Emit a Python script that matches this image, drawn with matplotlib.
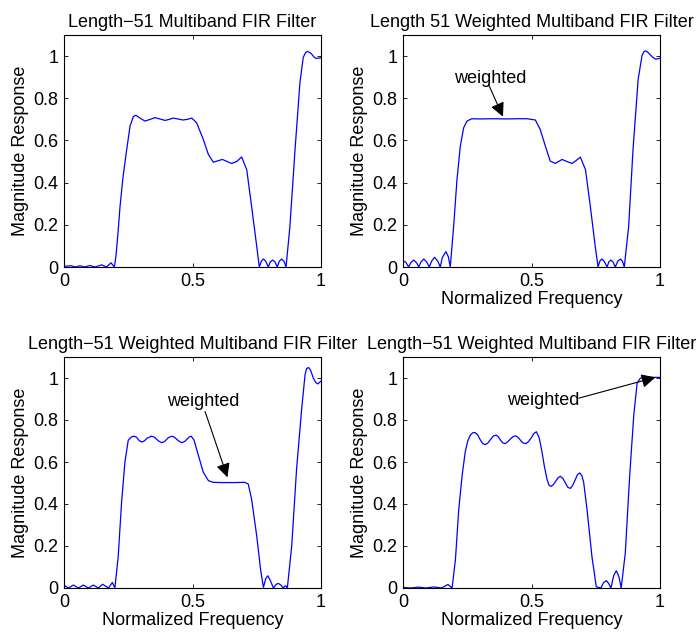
import matplotlib
matplotlib.use("Agg")
import matplotlib.pyplot as plt

plt.rcParams['font.family'] = ['Liberation Sans', 'DejaVu Sans']
plt.rcParams['font.size'] = 13

# values (normalized frequency, magnitude)
f1 = [0, .026, .045, .062, .08, .101, .12, .147, .165, .183,
      .196, .202, .210, .218, .230, .244, .257, .270, .280, .297,
      .315, .335, .354, .373, .393, .410, .425, .443, .462, .480,
      .497, .516, .542, .562, .581, .598, .616, .635, .652, .672,
      .691, .711, .730, .750, .760, .768, .776, .785, .795, .803,
      .812, .821, .830, .838, .847, .856, .864, .879, .899, .918,
      .931, .940, .947, .955, .964, .972, .981, .990, 1.0]
m1 = [.003, .006, 0, .006, 0, .007, 0, .01, 0, .02,
      0, .05, .16, .287, .43, .557, .668, .714, .719, .705,
      .692, .700, .708, .702, .695, .700, .706, .702, .697, .700,
      .706, .684, .605, .533, .497, .503, .510, .500, .491, .500,
      .522, .462, .287, .097, 0, .028, .038, .027, 0, .025,
      .033, .024, 0, .028, .038, .027, 0, .192, .557, .874,
      .994, 1.017, 1.022, 1.018, 1.009, .996, .989, .990, .992]

f2 = [0, .011, .022, .030, .0415, .053, .0615, .069, .0804, .092,
      .1025, .111, .123, .135, .145, .153, .167, .176, .184, .197,
      .210, .223, .236, .249, .268, .30, .35, .40, .45, .4825,
      .515, .534, .554, .573, .593, .619, .638, .658, .674, .690,
      .710, .729, .748, .759, .766, .774, .783, .794, .801, .809,
      .817, .826, .836, .846, .854, .861, .878, .895, .915, .930,
      .937, .943, .951, .960, .971, .982, .991, 1.0]
m2 = [.03, .022, 0, .02, .033, .02, 0, .022, .038, .024,
      0, .027, .046, .028, 0, .045, .073, .05, 0, .192,
      .414, .573, .660, .692, .703, .702, .703, .702, .703, .703,
      .697, .652, .573, .502, .491, .510, .500, .491, .505, .521,
      .462, .287, .097, 0, .028, .038, .027, 0, .024, .033,
      .024, 0, .028, .038, .027, 0, .192, .557, .890, 1.002,
      1.02, 1.025, 1.02, 1.009, .995, .986, .987, .990]

f3 = [0, .0168, .0363, .056, .0752, .095, .114, .134, .150, .173,
      .188, .198, .211, .224, .237, .250, .262, .272, .282, .292,
      .302, .312, .324, .341, .352, .368, .380, .392, .406, .419,
      .430, .446, .458, .470, .486, .495, .506, .523, .542, .562,
      .581, .62, .66, .704, .717, .730, .750, .765, .776, .785,
      .793, .803, .815, .825, .834, .843, .853, .858, .863, .869,
      .886, .905, .925, .938, .944, .952, .960, .970, .980, .988,
      1.0]
m3 = [.014, 0, .014, 0, .014, 0, .014, 0, .018, 0,
      .026, 0, .151, .407, .599, .704, .719, .723, .718, .703,
      .695, .700, .714, .723, .718, .700, .692, .698, .716, .723,
      .718, .700, .692, .698, .718, .723, .704, .631, .551, .511,
      .503, .502, .502, .503, .495, .423, .247, .087, .003, .045,
      .058, .035, 0, .017, .022, .015, 0, .008, .01, 0,
      .199, .567, .856, 1.016, 1.045, 1.05, 1.035, 1.0, .978, .972,
      .985]

f4 = [0, .03, .06, .09, .12, .15, .175, .191, .204, .217,
      .230, .242, .252, .262, .271, .281, .291, .300, .310, .320,
      .330, .341, .352, .362, .371, .380, .389, .398, .408, .420,
      .430, .440, .449, .458, .468, .479, .489, .499, .509, .519,
      .530, .541, .550, .560, .568, .576, .585, .594, .603, .612,
      .622, .632, .641, .651, .660, .670, .679, .688, .696, .703,
      .716, .735, .752, .760, .770, .780, .791, .800, .809, .820,
      .830, .840, .849, .865, .882, .898, .911, .924, .943, .965,
      1.0]
m4 = [.003, 0, .004, 0, .005, 0, .017, 0, .135, .375,
      .535, .647, .70, .728, .739, .740, .728, .707, .688, .683,
      .690, .708, .724, .728, .720, .703, .690, .688, .697, .712,
      .722, .724, .716, .702, .690, .688, .698, .715, .735, .744,
      .715, .647, .58, .519, .49, .484, .492, .508, .524, .532,
      .522, .500, .480, .474, .488, .515, .540, .548, .535, .503,
      .375, .151, .006, .003, 0, .025, .035, .022, 0, .06,
      .082, .055, 0, .167, .535, .824, .976, 1.0, 1.003, 1.003,
      1.003]

titles = ['Length\u221251 Multiband FIR Filter',
          'Length 51 Weighted Multiband FIR Filter',
          'Length\u221251 Weighted Multiband FIR Filter',
          'Length\u221251 Weighted Multiband FIR Filter']
show_xlabel = [False, True, True, True]
xticks = [0, 0.5, 1]
xticklabels = ['0', '0.5', '1']
yticks = [0, 0.2, 0.4, 0.6, 0.8, 1]
yticklabels = ['0', '0.2', '0.4', '0.6', '0.8', '1']

# annotation: (text pos, arrow start, arrow tip) in data units, None for no note
notes = [None,
         ((.339, .895), (.333, .865), (.389, .713)),
         ((.541, .889), (.549, .84), (.636, .527)),
         ((.545, .894), (.684, .904), (.982, 1.003))]

# axes rectangles in figure fractions [left, bottom, width, height]
rects = [[64 / 699, 1 - 267 / 637, 257 / 699, 232 / 637],
         [403 / 699, 1 - 267 / 637, 257 / 699, 232 / 637],
         [64 / 699, 1 - 588 / 637, 257 / 699, 231 / 637],
         [403 / 699, 1 - 588 / 637, 257 / 699, 231 / 637]]

fig = plt.figure(figsize=(6.99, 6.37), dpi=100)
data = [(f1, m1), (f2, m2), (f3, m3), (f4, m4)]

for k in range(4):
    ax = fig.add_axes(rects[k])
    f, m = data[k]
    ax.plot(f, m, color='#0000ff', lw=0.9)
    ax.set_xlim(0, 1)
    ax.set_ylim(0, 1.1)
    ax.set_xticks(xticks)
    ax.set_xticklabels(xticklabels)
    ax.set_yticks(yticks)
    ax.set_yticklabels(yticklabels)
    ax.tick_params(direction='in', length=3, width=0.6, top=True, right=True,
                   labelsize=13, pad=4)
    for sp in ax.spines.values():
        sp.set_linewidth(0.8)
    ax.set_title(titles[k], fontsize=13, pad=6)
    ax.set_ylabel('Magnitude Response', fontsize=13, labelpad=3)
    if show_xlabel[k]:
        ax.set_xlabel('Normalized Frequency', fontsize=13, labelpad=1)
    if notes[k] is not None:
        tpos, start, tip = notes[k]
        ax.text(tpos[0], tpos[1], 'weighted', ha='center', va='center', fontsize=13)
        ax.annotate('', xy=tip, xytext=start,
                    arrowprops=dict(arrowstyle='-|>', color='k', lw=0.8,
                                    mutation_scale=21, shrinkA=0, shrinkB=0))

fig.savefig('out.png', dpi=100)
